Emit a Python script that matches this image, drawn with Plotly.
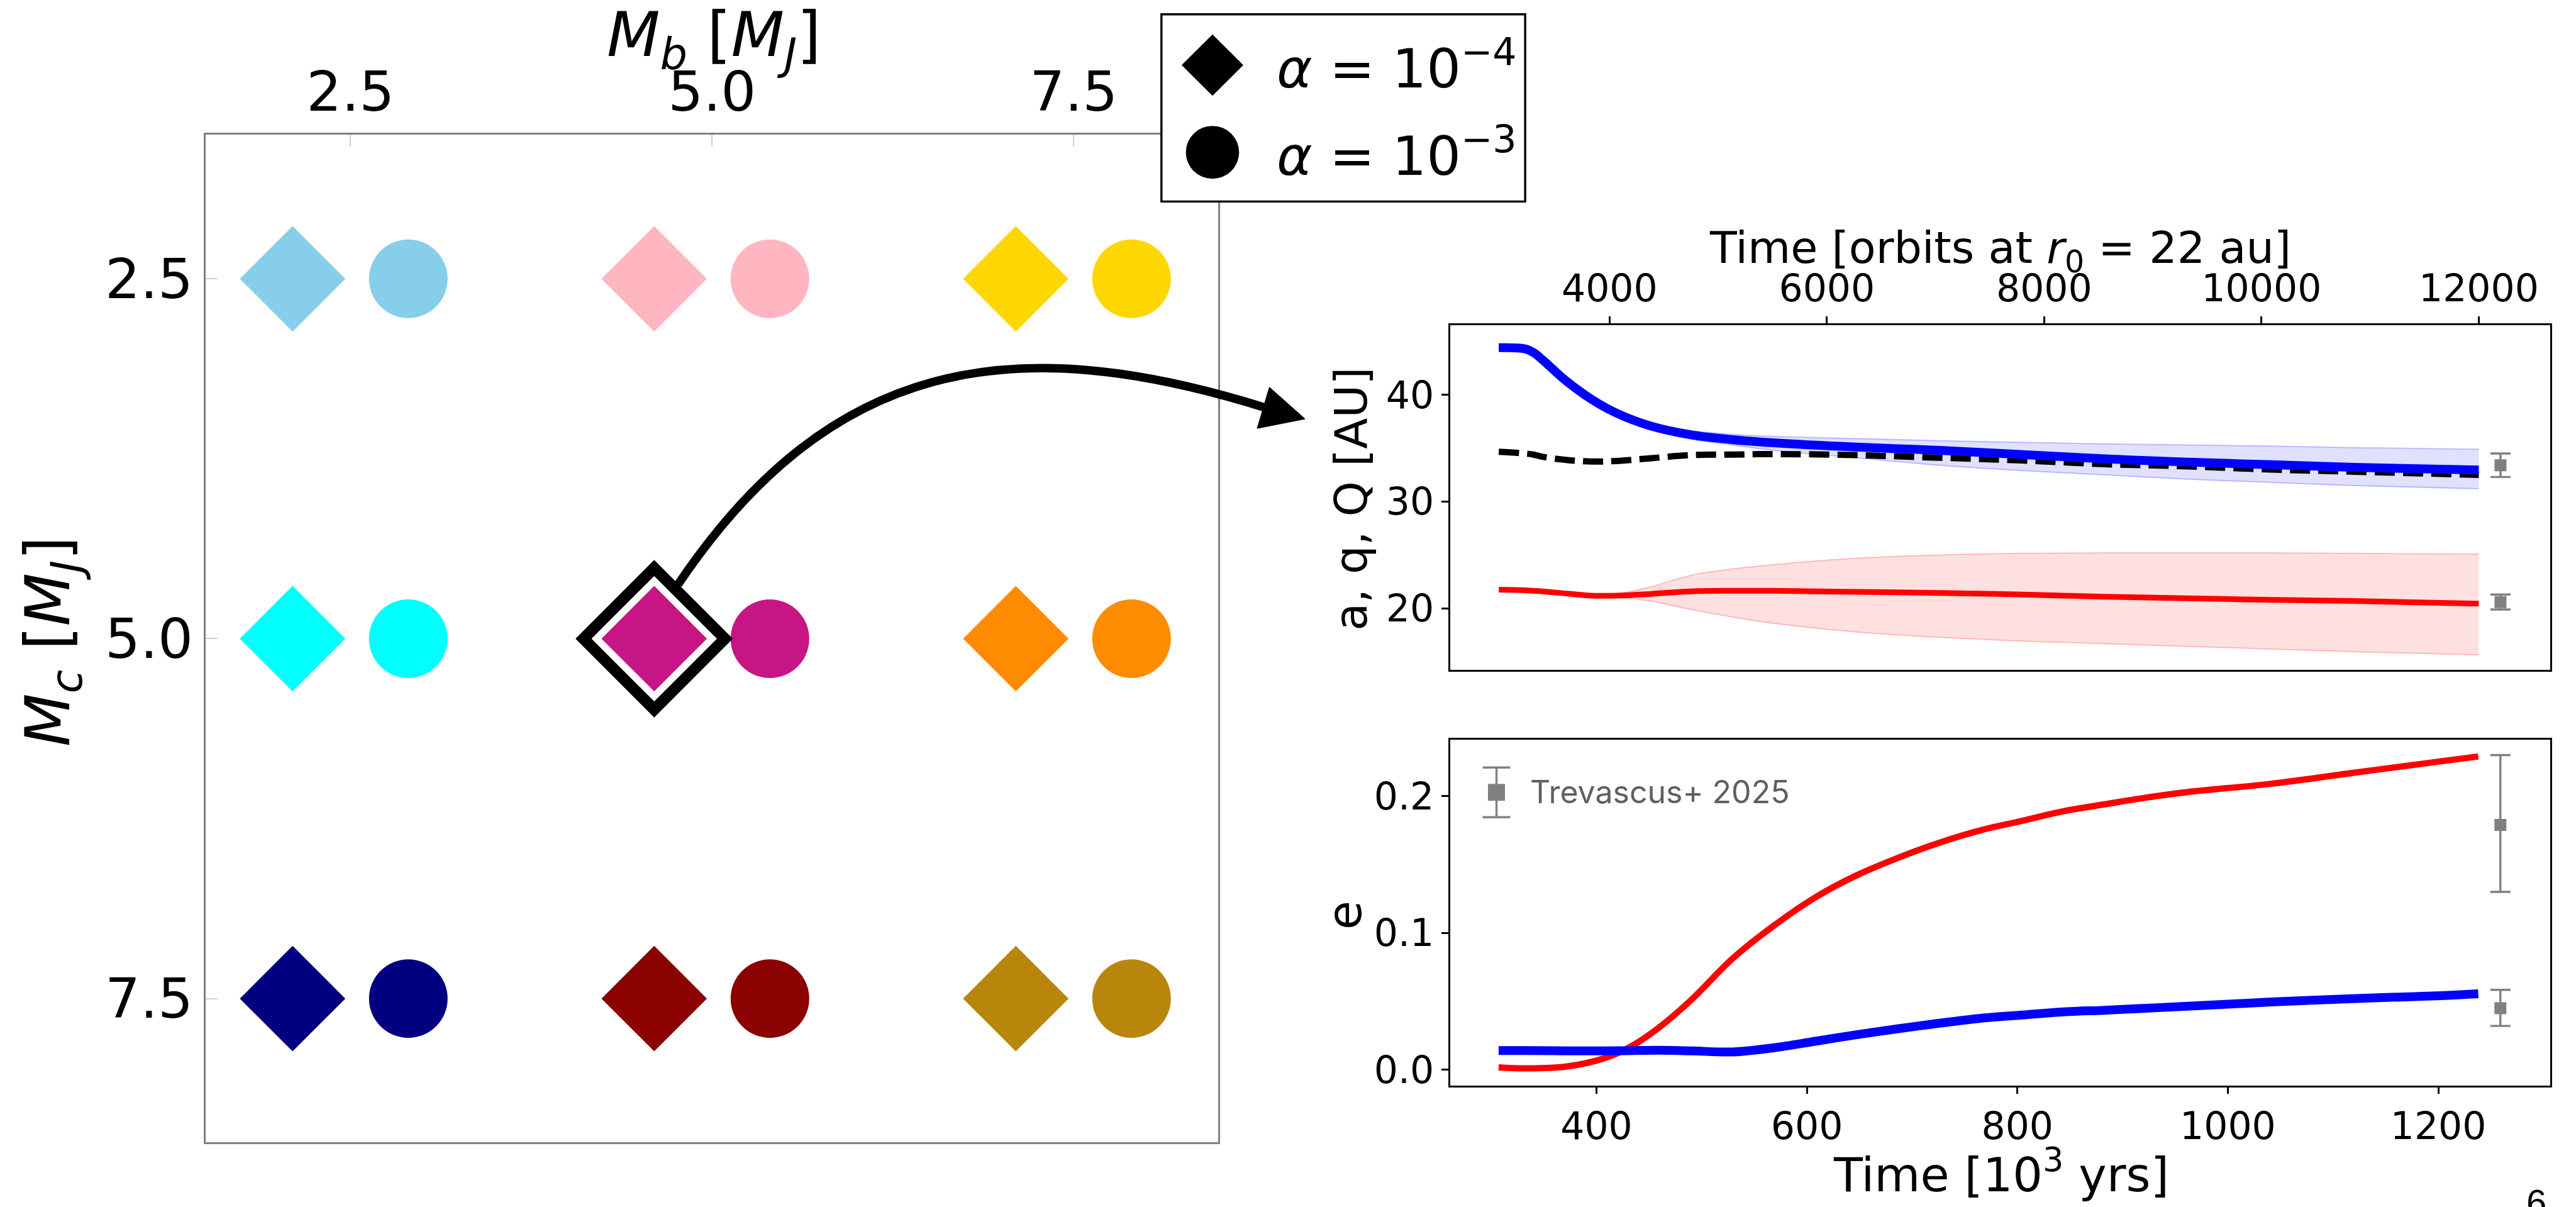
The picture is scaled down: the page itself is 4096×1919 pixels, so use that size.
import plotly.graph_objects as go

# ---------------- data ----------------
MB_VALUES = [2.5, 5.0, 7.5]          # planet b mass [M_J]
MC_VALUES = [2.5, 5.0, 7.5]          # planet c mass [M_J]
GRID_COLORS = [                      # rows follow MC_VALUES, columns MB_VALUES
    ["#87CEEB", "#FFB6C1", "#FFD700"],
    ["#00FFFF", "#C71585", "#FF8C00"],
    ["#000080", "#8B0000", "#B8860B"],
]
SELECTED_RUN = (5.0, 5.0)            # (Mb, Mc) of the alpha = 1e-4 run shown on the right
ALPHA_LABELS = ["<i>α</i> = 10<sup>−4</sup>", "<i>α</i> = 10<sup>−3</sup>"]

# orbital evolution, time in orbits at r0 = 22 au
T_ORB = [2980, 3220, 3300, 3380, 3600, 3830, 4060, 4370, 4750, 5130, 5510,
         6270, 7040, 7800, 8560, 9320, 10090, 10850, 12000]
A_OUTER = [44.4, 44.3, 43.95, 43.3, 41.3, 39.6, 38.3, 37.1, 36.25, 35.8, 35.5,
           35.1, 34.8, 34.4, 34.0, 33.7, 33.45, 33.2, 32.95]
QAPO_OUTER = [44.65, 44.55, 44.2, 43.6, 41.6, 39.9, 38.6, 37.45, 36.65, 36.3, 36.1,
              35.9, 35.7, 35.55, 35.4, 35.3, 35.2, 35.05, 34.9]
QPERI_OUTER = [44.15, 44.05, 43.7, 43.0, 41.0, 39.3, 38.0, 36.75, 35.85, 35.3, 34.8,
               34.1, 33.4, 32.9, 32.5, 32.1, 31.8, 31.5, 31.2]
RES_21 = [34.66, 34.5, 34.4, 34.2, 33.9, 33.75, 33.8, 34.05, 34.35, 34.4, 34.45,
          34.35, 34.1, 33.85, 33.5, 33.3, 33.0, 32.8, 32.5]
A_INNER = [21.75, 21.7, 21.65, 21.6, 21.4, 21.2, 21.2, 21.35, 21.6, 21.65, 21.65,
           21.55, 21.45, 21.3, 21.1, 20.95, 20.8, 20.7, 20.45]
QAPO_INNER = [21.75, 21.7, 21.65, 21.6, 21.45, 21.3, 21.35, 22.0, 23.1, 23.7, 24.1,
              24.7, 25.0, 25.15, 25.2, 25.2, 25.2, 25.15, 25.1]
QPERI_INNER = [21.75, 21.7, 21.65, 21.6, 21.35, 21.1, 21.05, 20.7, 19.9, 19.2, 18.6,
               17.8, 17.3, 16.95, 16.7, 16.45, 16.2, 15.95, 15.65]

# eccentricities, time in 10^3 yr
T_KYR = [307, 332, 372, 411, 435, 458, 490, 529, 568, 608, 647, 687,
         726, 765, 805, 844, 883, 923, 962, 1041, 1119, 1198, 1238]
E_INNER = [0.0017, 0.001, 0.0024, 0.0093, 0.018, 0.030, 0.051, 0.081, 0.105,
           0.126, 0.142, 0.155, 0.166, 0.175, 0.182, 0.189, 0.194, 0.199,
           0.203, 0.209, 0.217, 0.225, 0.229]
E_OUTER = [0.014, 0.014, 0.0138, 0.0138, 0.014, 0.0142, 0.0138, 0.013, 0.016,
           0.0208, 0.0256, 0.030, 0.034, 0.0376, 0.040, 0.0423, 0.0435, 0.045,
           0.0464, 0.0495, 0.052, 0.054, 0.0555]

# Trevascus+ 2025 measurements
OBS_T_ORB = 12200
OBS_T_KYR = 1259
OBS_A = [33.4, 20.6]
OBS_A_ERR = [1.1, 0.7]
OBS_E = [0.179, 0.045]
OBS_E_PLUS = [0.051, 0.0134]
OBS_E_MINUS = [0.049, 0.013]
OBS_LABEL = "Trevascus+ 2025"

ORBIT_TICKS = [4000, 6000, 8000, 10000, 12000]
KYR_TICKS = [400, 600, 800, 1000, 1200]

# ---------------- layout helpers ----------------
S = 0.845                      # drawing scale
W_REF, H_REF = 4844, 2270      # layout grid the positions below are given in
FIG_W, FIG_H = 4096, 1919


def fx(x):
    return x / W_REF


def fy(y):
    return 1 - y / H_REF


LEFT_BOX = (387, 255, 2291, 2160)
TOP_BOX = (2727, 615, 4796, 1266)
BOT_BOX = (2727, 1398, 4796, 2052)
OFFSET = 0.4                   # horizontal shift of the two alpha markers in a cell
FONT = "DejaVu Sans"
GRAY = "#808080"

fig = go.Figure()

# ---------------- left: parameter grid ----------------
for sym, off, size in [("diamond", -OFFSET, 129), ("circle", OFFSET, 125)]:
    xs, ys, cs = [], [], []
    for i, mc in enumerate(MC_VALUES):
        for j, mb in enumerate(MB_VALUES):
            xs.append(mb + off)
            ys.append(mc)
            cs.append(GRID_COLORS[i][j])
    fig.add_trace(go.Scatter(
        x=xs, y=ys, mode="markers", xaxis="x", yaxis="y", showlegend=False,
        marker=dict(symbol=sym, size=size, color=cs, line=dict(width=0)),
        hoverinfo="skip"))

fig.add_trace(go.Scatter(
    x=[SELECTED_RUN[0] - OFFSET], y=[SELECTED_RUN[1]], mode="markers",
    xaxis="x", yaxis="y", showlegend=False, hoverinfo="skip",
    marker=dict(symbol="diamond-open", size=173, color="black",
                line=dict(width=18, color="black"))))

# ---------------- top right: a, q, Q ----------------
def band(lo, hi, rgb):
    fig.add_trace(go.Scatter(
        x=T_ORB, y=lo, mode="lines", xaxis="x2", yaxis="y2", showlegend=False,
        line=dict(color=f"rgba({rgb},0.22)", width=2, shape="spline"),
        hoverinfo="skip"))
    fig.add_trace(go.Scatter(
        x=T_ORB, y=hi, mode="lines", xaxis="x2", yaxis="y2", showlegend=False,
        fill="tonexty", fillcolor=f"rgba({rgb},0.12)",
        line=dict(color=f"rgba({rgb},0.22)", width=2, shape="spline"),
        hoverinfo="skip"))


band(QPERI_OUTER, QAPO_OUTER, "0,0,255")
band(QPERI_INNER, QAPO_INNER, "255,0,0")

fig.add_trace(go.Scatter(
    x=T_ORB, y=A_INNER, mode="lines", xaxis="x2", yaxis="y2", showlegend=False,
    line=dict(color="#ff0000", width=9, shape="spline")))
fig.add_trace(go.Scatter(
    x=T_ORB, y=RES_21, mode="lines", xaxis="x2", yaxis="y2", showlegend=False,
    line=dict(color="black", width=10, dash="32px,13px", shape="spline")))
fig.add_trace(go.Scatter(
    x=T_ORB, y=A_OUTER, mode="lines", xaxis="x2", yaxis="y2", showlegend=False,
    line=dict(color="#0000ff", width=14, shape="spline")))
fig.add_trace(go.Scatter(
    x=[OBS_T_ORB] * len(OBS_A), y=OBS_A, mode="markers", xaxis="x2", yaxis="y2",
    showlegend=False, marker=dict(symbol="square", size=19, color=GRAY),
    error_y=dict(type="data", array=OBS_A_ERR, color=GRAY, thickness=3.4, width=16)))

# ---------------- bottom right: e ----------------
fig.add_trace(go.Scatter(
    x=T_KYR, y=E_INNER, mode="lines", xaxis="x3", yaxis="y3", showlegend=False,
    line=dict(color="#ff0000", width=10, shape="spline")))
fig.add_trace(go.Scatter(
    x=T_KYR, y=E_OUTER, mode="lines", xaxis="x3", yaxis="y3", showlegend=False,
    line=dict(color="#0000ff", width=14, shape="spline")))
fig.add_trace(go.Scatter(
    x=[OBS_T_KYR] * len(OBS_E), y=OBS_E, mode="markers", xaxis="x3", yaxis="y3",
    showlegend=False, marker=dict(symbol="square", size=19, color=GRAY),
    error_y=dict(type="data", symmetric=False, array=OBS_E_PLUS,
                 arrayminus=OBS_E_MINUS, color=GRAY, thickness=3.4, width=16)))

# ---------------- axes ----------------
left_common = dict(
    showgrid=False, zeroline=False, showline=True, mirror=True,
    linecolor=GRAY, linewidth=2.5, ticks="inside", ticklen=19, tickwidth=2,
    tickcolor="#cfcfcf", tickfont=dict(family=FONT, size=88, color="black"),
    tickvals=MB_VALUES, ticktext=[f"{v:.1f}" for v in MB_VALUES])
right_common = dict(
    showgrid=False, zeroline=False, showline=True, mirror=True,
    linecolor="black", linewidth=2.5, ticks="outside", ticklen=11, tickwidth=2.5,
    tickcolor="black", tickfont=dict(family=FONT, size=60, color="black"))

fig.update_layout(
    xaxis=dict(domain=[fx(LEFT_BOX[0]), fx(LEFT_BOX[2])], range=[1.5, 8.5],
               side="top", anchor="y", **left_common),
    yaxis=dict(domain=[fy(LEFT_BOX[3]), fy(LEFT_BOX[1])], range=[8.5, 1.5],
               anchor="x", **left_common),
    xaxis2=dict(domain=[fx(TOP_BOX[0]), fx(TOP_BOX[2])], range=[2533, 12660],
                side="top", anchor="y2", tickvals=ORBIT_TICKS,
                ticktext=[str(v) for v in ORBIT_TICKS], **right_common),
    yaxis2=dict(domain=[fy(TOP_BOX[3]), fy(TOP_BOX[1])], range=[14.27, 46.5],
                anchor="x2", tickvals=[20, 30, 40], **right_common),
    xaxis3=dict(domain=[fx(BOT_BOX[0]), fx(BOT_BOX[2])], range=[261, 1306.6],
                anchor="y3", tickvals=KYR_TICKS,
                ticktext=[str(v) for v in KYR_TICKS], **right_common),
    yaxis3=dict(domain=[fy(BOT_BOX[3]), fy(BOT_BOX[1])], range=[-0.01145, 0.2414],
                anchor="x3", tickvals=[0.0, 0.1, 0.2],
                ticktext=["0.0", "0.1", "0.2"], **right_common),
)

# ---------------- shapes: arrow, legend boxes ----------------
shapes = []


def pt(x, y):
    return f"{fx(x):.5f},{fy(y):.5f}"


# curved arrow from the selected run to the time-series panels
shapes.append(dict(
    type="path", xref="paper", yref="paper", layer="above",
    path=f"M {pt(1275, 1105)} C {pt(1560, 680)} {pt(1900, 620)} {pt(2380, 771)}",
    line=dict(color="black", width=13.5), fillcolor="rgba(0,0,0,0)"))
shapes.append(dict(
    type="path", xref="paper", yref="paper", layer="above",
    path=f"M {pt(2454, 792)} L {pt(2387, 732)} L {pt(2364, 810)} Z",
    line=dict(color="black", width=1), fillcolor="black"))

# alpha legend
LEG = (2184, 27, 2868, 381)
shapes.append(dict(
    type="rect", xref="paper", yref="paper", layer="above",
    x0=fx(LEG[0]), x1=fx(LEG[2]), y0=fy(LEG[3]), y1=fy(LEG[1]),
    line=dict(color="black", width=3.4), fillcolor="white"))
DX, DY, HD = 2280, 123, 58
shapes.append(dict(
    type="path", xref="paper", yref="paper", layer="above",
    path=(f"M {pt(DX - HD, DY)} L {pt(DX, DY - HD)} L {pt(DX + HD, DY)} "
          f"L {pt(DX, DY + HD)} Z"),
    line=dict(width=0), fillcolor="black"))
CX, CY, R = 2280, 288, 50
shapes.append(dict(
    type="circle", xref="paper", yref="paper", layer="above",
    x0=fx(CX - R), x1=fx(CX + R), y0=fy(CY + R), y1=fy(CY - R),
    line=dict(width=0), fillcolor="black"))

# observation legend inside the e panel
bw = BOT_BOX[2] - BOT_BOX[0]
bh = BOT_BOX[3] - BOT_BOX[1]


def dx(x):
    return (x - BOT_BOX[0]) / bw


def dy(y):
    return (BOT_BOX[3] - y) / bh


LX, LYC, LYT, LYB = 2814, 1498, 1451, 1545
shapes += [
    dict(type="line", xref="x3 domain", yref="y3 domain", x0=dx(LX), x1=dx(LX),
         y0=dy(LYB), y1=dy(LYT), line=dict(color=GRAY, width=3.4)),
    dict(type="line", xref="x3 domain", yref="y3 domain", x0=dx(LX - 26),
         x1=dx(LX + 26), y0=dy(LYT), y1=dy(LYT), line=dict(color=GRAY, width=3.4)),
    dict(type="line", xref="x3 domain", yref="y3 domain", x0=dx(LX - 26),
         x1=dx(LX + 26), y0=dy(LYB), y1=dy(LYB), line=dict(color=GRAY, width=3.4)),
    dict(type="rect", xref="x3 domain", yref="y3 domain", x0=dx(LX - 16),
         x1=dx(LX + 16), y0=dy(LYC + 16), y1=dy(LYC - 16),
         line=dict(width=0), fillcolor=GRAY),
]

# ---------------- annotations ----------------
ann = []


def label(text, x, y, size, angle=0, xanchor="center", yanchor="middle",
          family=FONT, color="black", xref="paper", yref="paper"):
    ann.append(dict(text=text, x=x, y=y, xref=xref, yref=yref, showarrow=False,
                    textangle=angle, xanchor=xanchor, yanchor=yanchor,
                    font=dict(family=family, size=size, color=color)))


label("<i>M</i><sub><i>b</i></sub> [<i>M</i><sub><i>J</i></sub>]", fx(1343), fy(74), 98)
label("<i>M</i><sub><i>c</i></sub> [<i>M</i><sub><i>J</i></sub>]", fx(98), fy(1212), 98,
      angle=-90)
label(ALPHA_LABELS[0], fx(2398), fy(123), 86, xanchor="left")
label(ALPHA_LABELS[1], fx(2398), fy(288), 86, xanchor="left")
label("Time [orbits at <i>r</i><sub>0</sub> = 22 au]", fx(3761), fy(475), 70)
label("a, q, Q [AU]", fx(2540), fy(943), 72, angle=-90)
label("Time [10<sup>3</sup> yrs]", fx(3763), fy(2215), 75)
label("e", fx(2528), fy(1731), 75, angle=-90)
label(OBS_LABEL, dx(2875), dy(1497), 50, xanchor="left", family="Inter",
      color="#5f5f5f", xref="x3 domain", yref="y3 domain")
label("6", fx(4770), fy(2232), 58, yanchor="top", family="Liberation Sans")

fig.update_layout(
    width=FIG_W, height=FIG_H, margin=dict(l=0, r=0, t=0, b=0),
    paper_bgcolor="white", plot_bgcolor="white", showlegend=False,
    shapes=shapes, annotations=ann)

fig.write_html("out.html")
